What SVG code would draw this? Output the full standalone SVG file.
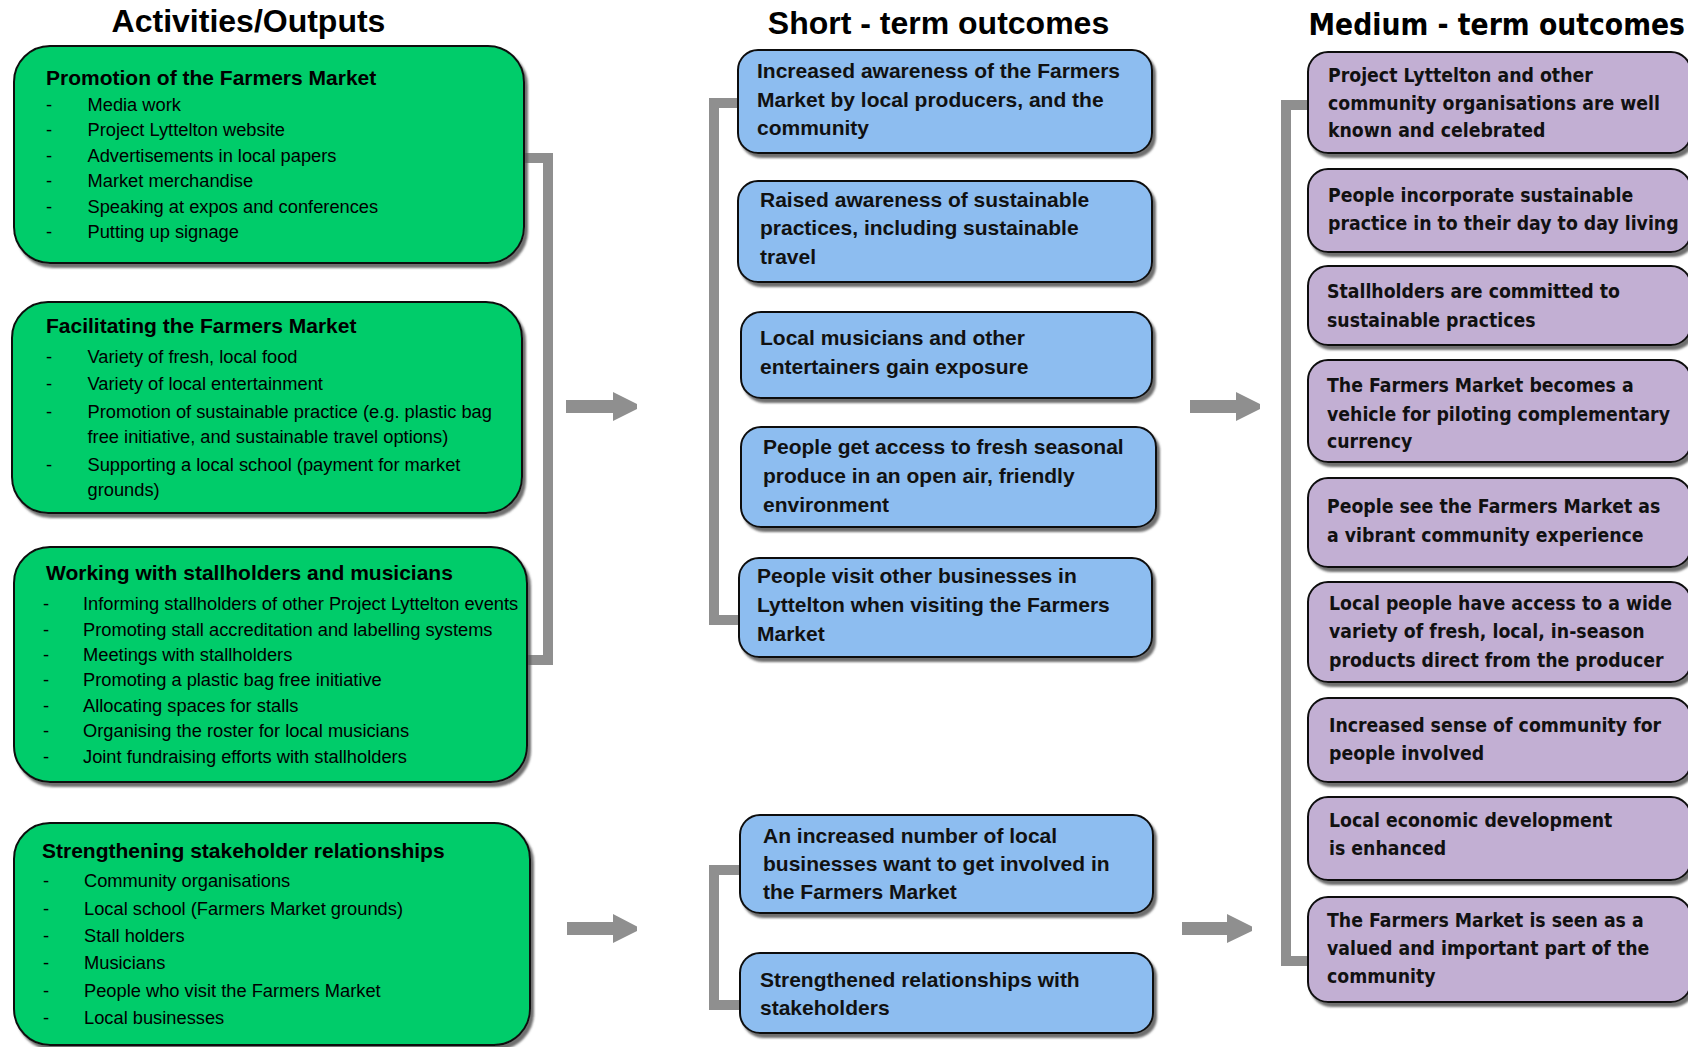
<svg xmlns="http://www.w3.org/2000/svg" width="1688" height="1047" viewBox="0 0 1688 1047">
<defs>
<filter id="sh" x="-5%" y="-5%" width="115%" height="120%">
<feDropShadow dx="3" dy="4" stdDeviation="1.2" flood-color="#555" flood-opacity="0.85"/>
</filter>
<style>
.g{fill:#00CC6A;stroke:#111;stroke-width:2;filter:url(#sh)}
.b{fill:#8DBDF0;stroke:#111;stroke-width:2;filter:url(#sh)}
.p{fill:#C2AFD3;stroke:#111;stroke-width:2;filter:url(#sh)}
.title{font-family:"Liberation Sans",Arial,sans-serif;font-weight:bold;font-size:32px;fill:#000}
.ptitle{font-family:"DejaVu Sans",Verdana,sans-serif;font-weight:bold;font-size:30px;fill:#000}
.h{font-family:"Liberation Sans",Arial,sans-serif;font-weight:bold;font-size:21px;fill:#000}
.i{font-family:"Liberation Sans",Arial,sans-serif;font-size:18.3px;fill:#000}
.bt{font-family:"Liberation Sans",Arial,sans-serif;font-weight:bold;font-size:21px;fill:#111}
.pt{font-family:"DejaVu Sans",Verdana,sans-serif;font-weight:bold;font-size:19.5px;fill:#111}
.conn{fill:none;stroke:#8F8F8F;stroke-width:10}
.arr{fill:#8F8F8F}
</style>
</defs>
<rect width="1688" height="1047" fill="#fff"/>

<g id="titles">
<text class="title" x="248.5" y="32" text-anchor="middle">Activities/Outputs</text>
<text class="title" x="938.5" y="34" text-anchor="middle">Short - term outcomes</text>
<text class="ptitle" transform="translate(1308.5,35) scale(0.89,1)">Medium - term outcomes</text>
</g>

<g id="connectors">
<path class="conn" d="M515 158 H548 V660 H515"/>
<path class="conn" d="M745 103 H714 V620 H745"/>
<path class="conn" d="M745 870 H714 V1005 H745"/>
<path class="conn" d="M1315 105 H1286 V961 H1315"/>
<polygon class="arr" points="566,400 613,400 613,392 637,404 637,409 613,421 613,413 566,413"/>
<polygon class="arr" points="1190,400 1236,400 1236,392 1260,404 1260,409 1236,421 1236,413 1190,413"/>
<polygon class="arr" points="567,922 613,922 613,914 637,926.5 637,931 613,943 613,935 567,935"/>
<polygon class="arr" points="1182,922 1227,922 1227,914 1252,926.5 1252,931 1227,943 1227,935 1182,935"/>
</g>

<g id="act-promotion">
<rect class="g" x="14" y="46" width="510" height="217" rx="36"/>
<text class="h" x="46" y="85">Promotion of the Farmers Market</text>
<text class="i" x="46" y="110.5">-</text><text class="i" x="87.5" y="110.5">Media work</text>
<text class="i" x="46" y="136">-</text><text class="i" x="87.5" y="136">Project Lyttelton website</text>
<text class="i" x="46" y="161.5">-</text><text class="i" x="87.5" y="161.5">Advertisements in local papers</text>
<text class="i" x="46" y="187">-</text><text class="i" x="87.5" y="187">Market merchandise</text>
<text class="i" x="46" y="212.5">-</text><text class="i" x="87.5" y="212.5">Speaking at expos and conferences</text>
<text class="i" x="46" y="238">-</text><text class="i" x="87.5" y="238">Putting up signage</text>
</g>

<g id="act-facilitating">
<rect class="g" x="12" y="302" width="510" height="211" rx="36"/>
<text class="h" x="46" y="333">Facilitating the Farmers Market</text>
<text class="i" x="46" y="362.5">-</text><text class="i" x="87.5" y="362.5">Variety of fresh, local food</text>
<text class="i" x="46" y="390">-</text><text class="i" x="87.5" y="390">Variety of local entertainment</text>
<text class="i" x="46" y="418">-</text><text class="i" x="87.5" y="418">Promotion of sustainable practice (e.g. plastic bag</text>
<text class="i" x="87.5" y="443">free initiative, and sustainable travel options)</text>
<text class="i" x="46" y="470.5">-</text><text class="i" x="87.5" y="470.5">Supporting a local school (payment for market</text>
<text class="i" x="87.5" y="496">grounds)</text>
</g>

<g id="act-working">
<rect class="g" x="14" y="547" width="513" height="235" rx="36"/>
<text class="h" x="46" y="580">Working with stallholders and musicians</text>
<text class="i" x="43" y="610">-</text><text class="i" x="83" y="610">Informing stallholders of other Project Lyttelton events</text>
<text class="i" x="43" y="635.5">-</text><text class="i" x="83" y="635.5">Promoting stall accreditation and labelling systems</text>
<text class="i" x="43" y="661">-</text><text class="i" x="83" y="661">Meetings with stallholders</text>
<text class="i" x="43" y="686">-</text><text class="i" x="83" y="686">Promoting a plastic bag free initiative</text>
<text class="i" x="43" y="711.5">-</text><text class="i" x="83" y="711.5">Allocating spaces for stalls</text>
<text class="i" x="43" y="737">-</text><text class="i" x="83" y="737">Organising the roster for local musicians</text>
<text class="i" x="43" y="762.5">-</text><text class="i" x="83" y="762.5">Joint fundraising efforts with stallholders</text>
</g>

<g id="act-strengthening">
<rect class="g" x="14" y="823" width="516" height="222" rx="36"/>
<text class="h" x="42" y="858">Strengthening stakeholder relationships</text>
<text class="i" x="43" y="887">-</text><text class="i" x="84" y="887">Community organisations</text>
<text class="i" x="43" y="914.5">-</text><text class="i" x="84" y="914.5">Local school (Farmers Market grounds)</text>
<text class="i" x="43" y="942">-</text><text class="i" x="84" y="942">Stall holders</text>
<text class="i" x="43" y="969">-</text><text class="i" x="84" y="969">Musicians</text>
<text class="i" x="43" y="997">-</text><text class="i" x="84" y="997">People who visit the Farmers Market</text>
<text class="i" x="43" y="1024">-</text><text class="i" x="84" y="1024">Local businesses</text>
</g>

<g id="st-awareness">
<rect class="b" x="738" y="50" width="414" height="103" rx="20"/>
<text class="bt" x="757" y="78">Increased awareness of the Farmers</text>
<text class="bt" x="757" y="107">Market by local producers, and the</text>
<text class="bt" x="757" y="135">community</text>
</g>
<g id="st-sustainable">
<rect class="b" x="738" y="181" width="414" height="101" rx="20"/>
<text class="bt" x="760" y="207">Raised awareness of sustainable</text>
<text class="bt" x="760" y="235">practices, including sustainable</text>
<text class="bt" x="760" y="264">travel</text>
</g>
<g id="st-musicians">
<rect class="b" x="741" y="312" width="411" height="86" rx="20"/>
<text class="bt" x="760" y="345">Local musicians and other</text>
<text class="bt" x="760" y="374">entertainers gain exposure</text>
</g>
<g id="st-access">
<rect class="b" x="741" y="427" width="415" height="100" rx="20"/>
<text class="bt" x="763" y="454">People get access to fresh seasonal</text>
<text class="bt" x="763" y="483">produce in an open air, friendly</text>
<text class="bt" x="763" y="512">environment</text>
</g>
<g id="st-visit">
<rect class="b" x="739" y="558" width="413" height="99" rx="20"/>
<text class="bt" x="757" y="583">People visit other businesses in</text>
<text class="bt" x="757" y="612">Lyttelton when visiting the Farmers</text>
<text class="bt" x="757" y="641">Market</text>
</g>
<g id="st-businesses">
<rect class="b" x="740" y="815" width="413" height="98" rx="20"/>
<text class="bt" x="763" y="843">An increased number of local</text>
<text class="bt" x="763" y="871">businesses want to get involved in</text>
<text class="bt" x="763" y="899">the Farmers Market</text>
</g>
<g id="st-relationships">
<rect class="b" x="740" y="953" width="413" height="80" rx="20"/>
<text class="bt" x="760" y="987">Strengthened relationships with</text>
<text class="bt" x="760" y="1015">stakeholders</text>
</g>

<g id="mt-celebrated">
<rect class="p" x="1308" y="52" width="383" height="101" rx="20"/>
<text class="pt" transform="translate(1328,82) scale(0.89,1)">Project Lyttelton and other</text>
<text class="pt" transform="translate(1328,110) scale(0.89,1)">community organisations are well</text>
<text class="pt" transform="translate(1328,137) scale(0.89,1)">known and celebrated</text>
</g>
<g id="mt-practice">
<rect class="p" x="1308" y="169" width="383" height="83" rx="20"/>
<text class="pt" transform="translate(1328,202) scale(0.89,1)">People incorporate sustainable</text>
<text class="pt" transform="translate(1328,230) scale(0.89,1)">practice in to their day to day living</text>
</g>
<g id="mt-stallholders">
<rect class="p" x="1308" y="266" width="383" height="79" rx="20"/>
<text class="pt" transform="translate(1327,298) scale(0.89,1)">Stallholders are committed to</text>
<text class="pt" transform="translate(1327,327) scale(0.89,1)">sustainable practices</text>
</g>
<g id="mt-currency">
<rect class="p" x="1308" y="360" width="383" height="102" rx="20"/>
<text class="pt" transform="translate(1327,392) scale(0.89,1)">The Farmers Market becomes a</text>
<text class="pt" transform="translate(1327,421) scale(0.89,1)">vehicle for piloting complementary</text>
<text class="pt" transform="translate(1327,448) scale(0.89,1)">currency</text>
</g>
<g id="mt-vibrant">
<rect class="p" x="1308" y="478" width="383" height="89" rx="20"/>
<text class="pt" transform="translate(1327,513) scale(0.89,1)">People see the Farmers Market as</text>
<text class="pt" transform="translate(1327,542) scale(0.89,1)">a vibrant community experience</text>
</g>
<g id="mt-variety">
<rect class="p" x="1308" y="582" width="383" height="100" rx="20"/>
<text class="pt" transform="translate(1329,610) scale(0.89,1)">Local people have access to a wide</text>
<text class="pt" transform="translate(1329,638) scale(0.89,1)">variety of fresh, local, in-season</text>
<text class="pt" transform="translate(1329,667) scale(0.89,1)">products direct from the producer</text>
</g>
<g id="mt-community">
<rect class="p" x="1308" y="698" width="383" height="84" rx="20"/>
<text class="pt" transform="translate(1329,732) scale(0.89,1)">Increased sense of community for</text>
<text class="pt" transform="translate(1329,760) scale(0.89,1)">people involved</text>
</g>
<g id="mt-economic">
<rect class="p" x="1308" y="797" width="383" height="83" rx="20"/>
<text class="pt" transform="translate(1329,827) scale(0.89,1)">Local economic development</text>
<text class="pt" transform="translate(1329,855) scale(0.89,1)">is enhanced</text>
</g>
<g id="mt-valued">
<rect class="p" x="1308" y="897" width="383" height="105" rx="20"/>
<text class="pt" transform="translate(1327,927) scale(0.89,1)">The Farmers Market is seen as a</text>
<text class="pt" transform="translate(1327,955) scale(0.89,1)">valued and important part of the</text>
<text class="pt" transform="translate(1327,983) scale(0.89,1)">community</text>
</g>
</svg>
